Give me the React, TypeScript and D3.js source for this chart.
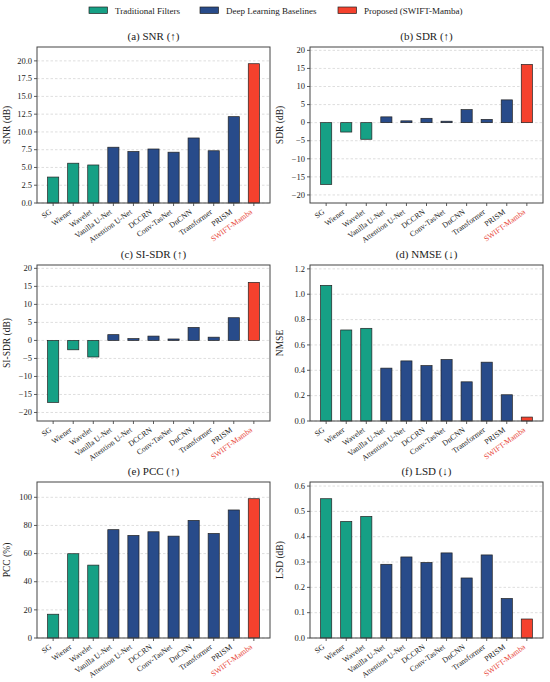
import * as d3 from 'd3'
import React from 'react'

const categories = ['SG', 'Wiener', 'Wavelet', 'Vanilla U-Net', 'Attention U-Net', 'DCCRN', 'Conv-TasNet', 'DnCNN', 'Transformer', 'PRISM', 'SWIFT-Mamba']
const groups = ['trad', 'trad', 'trad', 'dl', 'dl', 'dl', 'dl', 'dl', 'dl', 'dl', 'ours']
const legendLabels = ['Traditional Filters', 'Deep Learning Baselines', 'Proposed (SWIFT-Mamba)']

const snr = [3.65, 5.6, 5.35, 7.85, 7.25, 7.6, 7.15, 9.15, 7.35, 12.15, 19.6]
const sdr = [-17.1, -2.6, -4.6, 1.6, 0.5, 1.2, 0.4, 3.6, 0.9, 6.3, 16.1]
const siSdr = [-17.2, -2.6, -4.6, 1.6, 0.5, 1.2, 0.4, 3.6, 0.9, 6.3, 16.1]
const nmse = [1.07, 0.718, 0.731, 0.417, 0.474, 0.437, 0.485, 0.309, 0.464, 0.207, 0.031]
const pcc = [16.9, 59.9, 51.8, 77.0, 72.9, 75.5, 72.4, 83.6, 74.3, 91.0, 99.0]
const lsd = [0.55, 0.46, 0.48, 0.291, 0.32, 0.298, 0.336, 0.237, 0.328, 0.156, 0.075]

const snrTicks = [0, 2.5, 5, 7.5, 10, 12.5, 15, 17.5, 20]
const sdrTicks = [-20, -15, -10, -5, 0, 5, 10, 15, 20]
const nmseTicks = [0, 0.2, 0.4, 0.6, 0.8, 1.0, 1.2]
const pccTicks = [0, 20, 40, 60, 80, 100]
const lsdTicks = [0, 0.1, 0.2, 0.3, 0.4, 0.5, 0.6]

const colors = { trad: '#16a085', dl: '#284b8a', ours: '#f5412d' }
const FONT = '"Liberation Serif", "Times New Roman", serif'

const signed = (d) => (d < 0 ? '\u2212' + Math.abs(d) : String(d))
const f1 = d3.format('.1f')

const panels = [
  { title: '(a) SNR (\u2191)', ylabel: 'SNR (dB)', data: snr, ticks: snrTicks, fmt: f1, lo: 0, hi: 1.12, x: 37, y: 47 },
  { title: '(b) SDR (\u2191)', ylabel: 'SDR (dB)', data: sdr, ticks: sdrTicks, fmt: signed, lo: 1.3, hi: 1.3, x: 310, y: 47 },
  { title: '(c) SI-SDR (\u2191)', ylabel: 'SI-SDR (dB)', data: siSdr, ticks: sdrTicks, fmt: signed, lo: 1.3, hi: 1.3, x: 37, y: 265 },
  { title: '(d) NMSE (\u2193)', ylabel: 'NMSE', data: nmse, ticks: nmseTicks, fmt: f1, lo: 0, hi: 1.15, x: 310, y: 265 },
  { title: '(e) PCC (\u2191)', ylabel: 'PCC (%)', data: pcc, ticks: pccTicks, fmt: (d) => String(d), lo: 0, hi: 1.12, x: 37, y: 482 },
  { title: '(f) LSD (\u2193)', ylabel: 'LSD (dB)', data: lsd, ticks: lsdTicks, fmt: f1, lo: 0, hi: 1.12, x: 310, y: 482 },
]

const W = 233
const H = 156

const Panel = ({ p }) => {
  const min = d3.min(p.data)
  const max = d3.max(p.data)
  const y = d3.scaleLinear()
    .domain([p.lo ? min * p.lo : 0, max * p.hi])
    .range([H, 0])
  const x = d3.scaleBand()
    .domain(categories)
    .range([0, W])
    .paddingInner(0.445)
    .paddingOuter(0.5275)
  const bw = x.bandwidth()

  return (
    <g transform={`translate(${p.x},${p.y})`}>
      <text x={W / 2} y={-7} textAnchor="middle" fontSize={11} fill="#222">{p.title}</text>
      {p.ticks.map((t) => (
        <g key={t}>
          <line x1={0} x2={W} y1={y(t)} y2={y(t)} stroke="#c8c8c8" strokeWidth={0.6} strokeDasharray="2.5,2" />
          <line x1={-3} x2={0} y1={y(t)} y2={y(t)} stroke="#333" strokeWidth={0.8} />
          <text x={-5} y={y(t)} dy="0.32em" textAnchor="end" fontSize={8.5} fill="#222">{p.fmt(t)}</text>
        </g>
      ))}
      {p.data.map((v, i) => (
        <rect
          key={categories[i]}
          x={x(categories[i])}
          y={y(Math.max(0, v))}
          width={bw}
          height={Math.abs(y(v) - y(0))}
          fill={colors[groups[i]]}
          stroke="#222"
          strokeWidth={0.7}
        />
      ))}
      {categories.map((c) => {
        const cx = x(c) + bw / 2
        return (
          <g key={c}>
            <line x1={cx} x2={cx} y1={H} y2={H + 3} stroke="#333" strokeWidth={0.8} />
            <text
              transform={`translate(${cx - 1},${H + 10}) rotate(-36)`}
              textAnchor="end"
              fontSize={7.8}
              fill={c === 'SWIFT-Mamba' ? '#e8473a' : '#222'}
            >{c}</text>
          </g>
        )
      })}
      <rect x={0} y={0} width={W} height={H} fill="none" stroke="#444" strokeWidth={1} />
      <text transform={`translate(-27,${H / 2}) rotate(-90)`} textAnchor="middle" fontSize={9.5} fill="#222">{p.ylabel}</text>
    </g>
  )
}

const legendX = [89, 200, 338]

export default function App() {
  return (
    <svg width={550} height={682} style={{ position: 'absolute', left: 0, top: 0, background: '#fff' }} fontFamily={FONT}>
      {legendLabels.map((l, i) => (
        <g key={l}>
          <rect x={legendX[i]} y={7} width={18.5} height={6.5} fill={colors[['trad', 'dl', 'ours'][i]]} stroke="#222" strokeWidth={0.7} />
          <text x={legendX[i] + 26} y={14} fontSize={9} fill="#222">{l}</text>
        </g>
      ))}
      {panels.map((p) => <Panel key={p.title} p={p} />)}
    </svg>
  )
}
